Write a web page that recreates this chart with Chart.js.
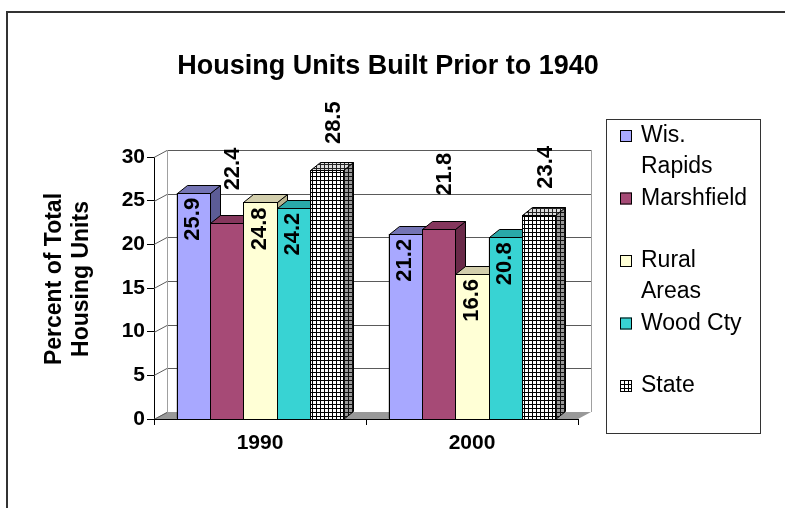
<!DOCTYPE html>
<html>
<head>
<meta charset="utf-8">
<script src="https://cdn.jsdelivr.net/npm/chart.js@4.4.1/dist/chart.umd.min.js"></script>
<style>
  html, body { margin: 0; padding: 0; background: #fff; }
  #wrap { width: 785px; height: 508px; }
</style>
</head>
<body>
<div id="wrap"><canvas id="housing"></canvas></div>
<script>
// values
const categories = ['1990', '2000'];
const seriesNames = ['Wis. Rapids', 'Marshfield', 'Rural Areas', 'Wood Cty', 'State'];
const wisRapids = [25.9, 21.2];
const marshfield = [22.4, 21.8];
const ruralAreas = [24.8, 16.6];
const woodCty = [24.2, 20.8];
const stateWide = [28.5, 23.4];
const yMin = 0, yMax = 30, yStep = 5;
const yTitle = ['Percent of Total', 'Housing Units'];

const FONT = "'Liberation Sans', Arial, sans-serif";
const canvas = document.getElementById('housing');
const ctx0 = canvas.getContext('2d');

// little 4px checker grid used for the State bars
function gridPattern(bg, line) {
  const c = document.createElement('canvas');
  c.width = 4; c.height = 4;
  const g = c.getContext('2d');
  g.fillStyle = bg; g.fillRect(0, 0, 4, 4);
  g.fillStyle = line; g.fillRect(0, 0, 4, 1); g.fillRect(0, 0, 1, 4);
  return ctx0.createPattern(c, 'repeat');
}

const looks = [
  { front: '#A8A8FF', top: '#7474B4', side: '#5C5C96' },
  { front: '#A64A76', top: '#85375D', side: '#6A2A49' },
  { front: '#FFFFD6', top: '#D2CEAC', side: '#B8B48F' },
  { front: '#38D3D3', top: '#29A8A8', side: '#1F8686' },
  { front: gridPattern('#ffffff', '#000000'), top: gridPattern('#dddddd', '#222222'), side: gridPattern('#9a9a9a', '#111111') }
];
// where each series puts its value label: inside the bar top, or floated above it
const labelSpot = [
  { inside: true, gap: 5, dx: 0 },
  { inside: false, gap: 33, dx: 6 },
  { inside: true, gap: 5, dx: 0 },
  { inside: true, gap: 5, dx: 0 },
  { inside: false, gap: 26, dx: 7 }
];
const seriesValues = [wisRapids, marshfield, ruralAreas, woodCty, stateWide];

const depth = { bx: 10, by: 8, wx: 13, wy: 7 };

function poly(ctx, pts) {
  ctx.beginPath();
  ctx.moveTo(pts[0][0], pts[0][1]);
  for (let k = 1; k < pts.length; k++) ctx.lineTo(pts[k][0], pts[k][1]);
  ctx.closePath();
}

const wallsPlugin = {
  id: 'walls',
  beforeDatasetsDraw(chart) {
    const { ctx, chartArea: a, scales: { y } } = chart;
    const y0 = y.getPixelForValue(0);
    ctx.save();
    // floor
    ctx.fillStyle = '#999999';
    poly(ctx, [[a.left, y0], [a.right, y0], [a.right + depth.wx, y0 - depth.wy], [a.left + depth.wx, y0 - depth.wy]]);
    ctx.fill();
    // gridlines on side + back wall
    ctx.strokeStyle = '#5a5a5a';
    ctx.lineWidth = 1;
    y.ticks.forEach(t => {
      const py = Math.round(y.getPixelForValue(t.value)) + 0.5;
      ctx.beginPath();
      ctx.moveTo(a.left, py);
      ctx.lineTo(a.left + depth.wx, py - depth.wy);
      if (t.value !== 0) ctx.lineTo(a.right + depth.wx, py - depth.wy);
      ctx.stroke();
    });
    // back wall edges
    ctx.strokeStyle = '#a0a0a0';
    const top = Math.round(y.getPixelForValue(yMax)) - depth.wy;
    [a.left + depth.wx + 0.5, a.right + depth.wx + 0.5].forEach(px => {
      ctx.beginPath();
      ctx.moveTo(px, top);
      ctx.lineTo(px, y0 - depth.wy);
      ctx.stroke();
    });
    // front edge of the floor
    ctx.strokeStyle = '#000';
    ctx.beginPath();
    ctx.moveTo(a.left, Math.round(y0) + 0.5);
    ctx.lineTo(a.right, Math.round(y0) + 0.5);
    ctx.stroke();
    ctx.restore();
  }
};

const barsPlugin = {
  id: 'bars3d',
  afterDatasetsDraw(chart) {
    const ctx = chart.ctx;
    ctx.save();
    ctx.lineWidth = 1;
    ctx.strokeStyle = '#000';
    categories.forEach((c, j) => {
      chart.data.datasets.forEach((ds, i) => {
        const el = chart.getDatasetMeta(i).data[j];
        const p = el.getProps(['x', 'y', 'base', 'width'], true);
        const l = Math.round(p.x - p.width / 2) + 0.5;
        const r = Math.round(p.x + p.width / 2) + 0.5;
        const t = Math.round(p.y) + 0.5;
        const b = Math.round(p.base) + 0.5;
        const lk = looks[i];
        // side
        poly(ctx, [[r, t], [r + depth.bx, t - depth.by], [r + depth.bx, b - depth.by], [r, b]]);
        ctx.fillStyle = lk.side; ctx.fill(); ctx.stroke();
        // top
        poly(ctx, [[l, t], [l + depth.bx, t - depth.by], [r + depth.bx, t - depth.by], [r, t]]);
        ctx.fillStyle = lk.top; ctx.fill(); ctx.stroke();
        // front
        ctx.fillStyle = lk.front;
        ctx.fillRect(l, t, r - l, b - t);
        ctx.strokeRect(l, t, r - l, b - t);
      });
    });
    // value labels, turned on their side
    ctx.fillStyle = '#000';
    ctx.font = 'bold 22px ' + FONT;
    ctx.textBaseline = 'middle';
    chart.data.datasets.forEach((ds, i) => {
      const spot = labelSpot[i];
      chart.getDatasetMeta(i).data.forEach((el, j) => {
        const p = el.getProps(['x', 'y'], true);
        const txt = ds.data[j].toFixed(1);
        ctx.save();
        if (spot.inside) {
          ctx.translate(p.x + spot.dx, p.y + spot.gap);
          ctx.textAlign = 'right';
        } else {
          ctx.translate(p.x + spot.dx, p.y - spot.gap);
          ctx.textAlign = 'left';
        }
        ctx.rotate(-Math.PI / 2);
        ctx.fillText(txt, 0, 0);
        ctx.restore();
      });
    });
    ctx.restore();
  }
};

function wrapWords(ctx, text, maxW) {
  const words = text.split(' ');
  const lines = [];
  let cur = '';
  words.forEach(w => {
    const tryIt = cur ? cur + ' ' + w : w;
    if (cur && ctx.measureText(tryIt).width > maxW) { lines.push(cur); cur = w; }
    else cur = tryIt;
  });
  lines.push(cur);
  return lines;
}

const framePlugin = {
  id: 'frame',
  afterDraw(chart) {
    const ctx = chart.ctx;
    ctx.save();
    // outer chart border (top + left)
    ctx.strokeStyle = '#333';
    ctx.lineWidth = 2;
    ctx.beginPath();
    ctx.moveTo(7, 508);
    ctx.lineTo(7, 12);
    ctx.lineTo(785, 12);
    ctx.stroke();

    // value axis title, two lines on their side
    ctx.fillStyle = '#000';
    ctx.font = 'bold 23px ' + FONT;
    ctx.textAlign = 'center';
    ctx.textBaseline = 'middle';
    yTitle.forEach((ln, k) => {
      ctx.save();
      ctx.translate(55 + k * 27, 279);
      ctx.rotate(-Math.PI / 2);
      ctx.fillText(ln, 0, 0);
      ctx.restore();
    });

    // legend box
    ctx.lineWidth = 1;
    ctx.strokeStyle = '#333';
    ctx.strokeRect(606.5, 119.5, 154, 314);
    ctx.font = '23px ' + FONT;
    ctx.textAlign = 'left';
    let slotY = 136;
    chart.data.datasets.forEach((ds, i) => {
      ctx.fillStyle = ds.backgroundColor;
      ctx.fillRect(620, slotY - 6, 12, 12);
      ctx.strokeStyle = '#000';
      ctx.strokeRect(620.5, slotY - 5.5, 11, 11);
      ctx.fillStyle = '#000';
      wrapWords(ctx, ds.label, 112).forEach((ln, k) => ctx.fillText(ln, 641, slotY + k * 31));
      slotY += 62.5;
    });
    ctx.restore();
  }
};

const datasets = seriesNames.map((name, i) => ({
  label: name,
  data: seriesValues[i],
  backgroundColor: looks[i].front,
  borderColor: '#000',
  borderWidth: 1,
  categoryPercentage: 0.787,
  barPercentage: 1.0
}));

new Chart(canvas, {
  type: 'bar',
  data: { labels: categories, datasets: datasets },
  options: {
    responsive: true,
    maintainAspectRatio: false,
    animation: false,
    devicePixelRatio: 1,
    layout: { padding: { left: 0, right: 9, top: 0, bottom: 0 } },
    plugins: {
      legend: { display: false },
      tooltip: { enabled: false },
      title: {
        display: true,
        text: 'Housing Units Built Prior to 1940',
        color: '#000',
        font: { family: FONT, size: 27, weight: 'bold' },
        padding: { top: 50, bottom: 74.6 }
      }
    },
    scales: {
      x: {
        grid: { display: true, drawOnChartArea: false, offset: true, color: '#000', tickLength: 6 },
        border: { display: false },
        ticks: { color: '#000', font: { family: FONT, size: 21, weight: 'bold' }, padding: 6 },
        afterFit: s => { s.height = 89; }
      },
      y: {
        min: yMin,
        max: yMax,
        ticks: { stepSize: yStep, color: '#000', font: { family: FONT, size: 21, weight: 'bold' }, padding: 2 },
        grid: { drawOnChartArea: false, color: '#000', tickLength: 7 },
        border: { display: true, color: '#000' },
        afterFit: s => { s.width = 154; }
      },
      spare: {
        type: 'linear',
        position: 'right',
        ticks: { display: false },
        grid: { display: false },
        border: { display: false },
        afterFit: s => { s.width = 198; }
      }
    }
  },
  plugins: [wallsPlugin, barsPlugin, framePlugin]
});
</script>
</body>
</html>
